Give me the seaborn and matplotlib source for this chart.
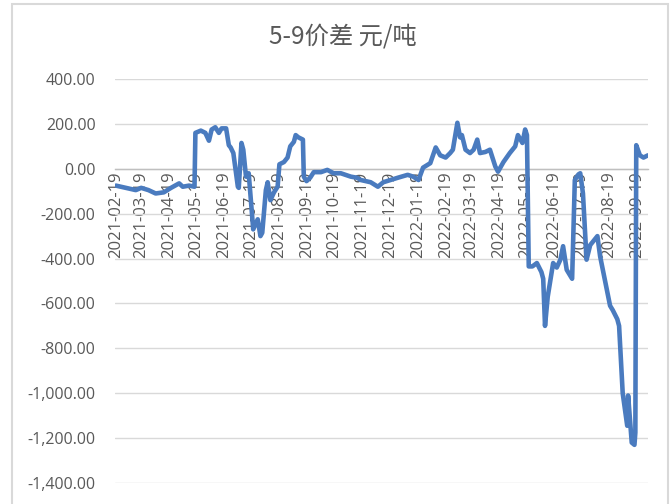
import matplotlib
matplotlib.use("Agg")
import matplotlib.pyplot as plt
import matplotlib.dates as mdates
from matplotlib.patches import Rectangle
from matplotlib.ticker import FuncFormatter
import pandas as pd
import seaborn as sns

# 5-9 spread series (CNY/ton)
dates = [
    "2021-02-19", "2021-03-02", "2021-03-13", "2021-03-19", "2021-03-27", "2021-04-04",
    "2021-04-13", "2021-04-21", "2021-04-30", "2021-05-04", "2021-05-11", "2021-05-17",
    "2021-05-18", "2021-05-24", "2021-05-29", "2021-06-02", "2021-06-05", "2021-06-09",
    "2021-06-13", "2021-06-16", "2021-06-21", "2021-06-24", "2021-06-26", "2021-06-29",
    "2021-07-04", "2021-07-05", "2021-07-08", "2021-07-10", "2021-07-13", "2021-07-16",
    "2021-07-20", "2021-07-21", "2021-07-26", "2021-07-29", "2021-07-31", "2021-08-04",
    "2021-08-06", "2021-08-09", "2021-08-13", "2021-08-17", "2021-08-19", "2021-08-24",
    "2021-08-28", "2021-08-31", "2021-09-04", "2021-09-06", "2021-09-09", "2021-09-14",
    "2021-09-15", "2021-09-18", "2021-09-22", "2021-09-26", "2021-10-04", "2021-10-11",
    "2021-10-18", "2021-10-26", "2021-11-06", "2021-11-13", "2021-11-17", "2021-11-28",
    "2021-12-06", "2021-12-12", "2021-12-20", "2021-12-28", "2022-01-08", "2022-01-14",
    "2022-01-20", "2022-01-25", "2022-02-02", "2022-02-08", "2022-02-13", "2022-02-19",
    "2022-02-24", "2022-02-27", "2022-03-04", "2022-03-07", "2022-03-09", "2022-03-13",
    "2022-03-18", "2022-03-22", "2022-03-26", "2022-03-29", "2022-04-04", "2022-04-09",
    "2022-04-15", "2022-04-18", "2022-04-24", "2022-05-01", "2022-05-07", "2022-05-10",
    "2022-05-15", "2022-05-18", "2022-05-20", "2022-05-22", "2022-05-26", "2022-05-31",
    "2022-06-05", "2022-06-07", "2022-06-09", "2022-06-12", "2022-06-18", "2022-06-22",
    "2022-06-26", "2022-06-29", "2022-07-03", "2022-07-09", "2022-07-12", "2022-07-16",
    "2022-07-18", "2022-07-21", "2022-07-25", "2022-07-29", "2022-08-06", "2022-08-09",
    "2022-08-14", "2022-08-20", "2022-08-23", "2022-08-28", "2022-08-30", "2022-09-03",
    "2022-09-08", "2022-09-09", "2022-09-13", "2022-09-16", "2022-09-17", "2022-09-18",
    "2022-09-22", "2022-09-26", "2022-10-01",
]
spread = [
    -75, -85, -95, -85, -95, -110,
    -105, -85, -65, -80, -75, -80,
    160, 170, 160, 125, 175, 185,
    160, 180, 180, 105, 95, 70,
    -80, -85, 115, 85, -35, -20,
    -225, -270, -225, -300, -285, -95,
    -60, -140, -105, -80, 20, 30,
    50, 100, 120, 150, 140, 130,
    -35, -55, -40, -15, -15, -5,
    -20, -20, -35, -40, -50, -60,
    -80, -60, -50, -40, -27, -35,
    -50, 5, 25, 95, 60, 50,
    70, 85, 205, 140, 150, 85,
    70, 85, 130, 70, 75, 85,
    10, -13, 30, 70, 100, 150,
    115, 175, 150, -435, -435, -420,
    -460, -490, -700, -570, -420, -440,
    -405, -345, -450, -490, -50, -25,
    -20, -110, -405, -340, -300, -390,
    -490, -610, -630, -670, -700, -1000,
    -1145, -1010, -1220, -1230, -1175, 105,
    60, 50, 60,
]
tick_dates = pd.date_range("2021-02-01", "2022-09-01", freq="MS") + pd.Timedelta(days=18)
y_ticks = list(range(-1400, 401, 200))
title = "5-9价差 元/吨"

df = pd.DataFrame({"date": pd.to_datetime(dates), "spread": spread})

sns.set_theme(style="white")
plt.rcParams["font.family"] = ["Noto Sans CJK SC", "DejaVu Sans"]

fig = plt.figure(figsize=(6.7, 5.04), dpi=100)
ax = fig.add_axes([115 / 670, 1 - 483 / 504, 533 / 670, 404 / 504])

grid_c = "#d9d9d9"
text_c = "#595959"

sns.lineplot(data=df, x="date", y="spread", ax=ax, color="#4a7bbf",
             linewidth=3.3, zorder=3)

ax.set_ylim(-1400, 400)
ax.set_xlim(pd.Timestamp("2021-02-18"), pd.Timestamp("2022-10-01"))
ax.set_yticks(y_ticks)
ax.yaxis.set_major_formatter(FuncFormatter(lambda v, _: f"{v:,.2f}"))
ax.grid(axis="y", color=grid_c, linewidth=1.0, zorder=0)
ax.grid(axis="x", visible=False)

ax.set_xticks(tick_dates)
ax.xaxis.set_major_formatter(mdates.DateFormatter("%Y-%m-%d"))

for s in ("top", "right", "left"):
    ax.spines[s].set_visible(False)
ax.spines["bottom"].set_position(("data", 0))
ax.spines["bottom"].set_color("#bfbfbf")
ax.spines["bottom"].set_linewidth(1.0)
ax.spines["bottom"].set_zorder(1)

ax.tick_params(axis="x", direction="inout", length=6, width=1.0, color="#bfbfbf",
               labelsize=12, labelcolor=text_c, rotation=90, pad=-1)
ax.tick_params(axis="y", length=0, labelsize=11.5, labelcolor=text_c, pad=14)
for lbl in ax.get_xticklabels():
    lbl.set_family(["Open Sans", "DejaVu Sans"])
for lbl in ax.get_yticklabels():
    lbl.set_family(["Open Sans", "DejaVu Sans"])

ax.set_xlabel("")
ax.set_ylabel("")

fig.text(343 / 670, 1 - 37 / 504, title, ha="center", va="center",
         fontsize=17.5, color=text_c)

# chart area frame
fig.patches.append(Rectangle((12.5 / 670, -0.02), (668 - 12.5) / 670, 1.02 - 4 / 504,
                             transform=fig.transFigure, fill=False,
                             edgecolor="#d9d9d9", linewidth=1.5))

fig.savefig("out.png", dpi=100, facecolor="white")
